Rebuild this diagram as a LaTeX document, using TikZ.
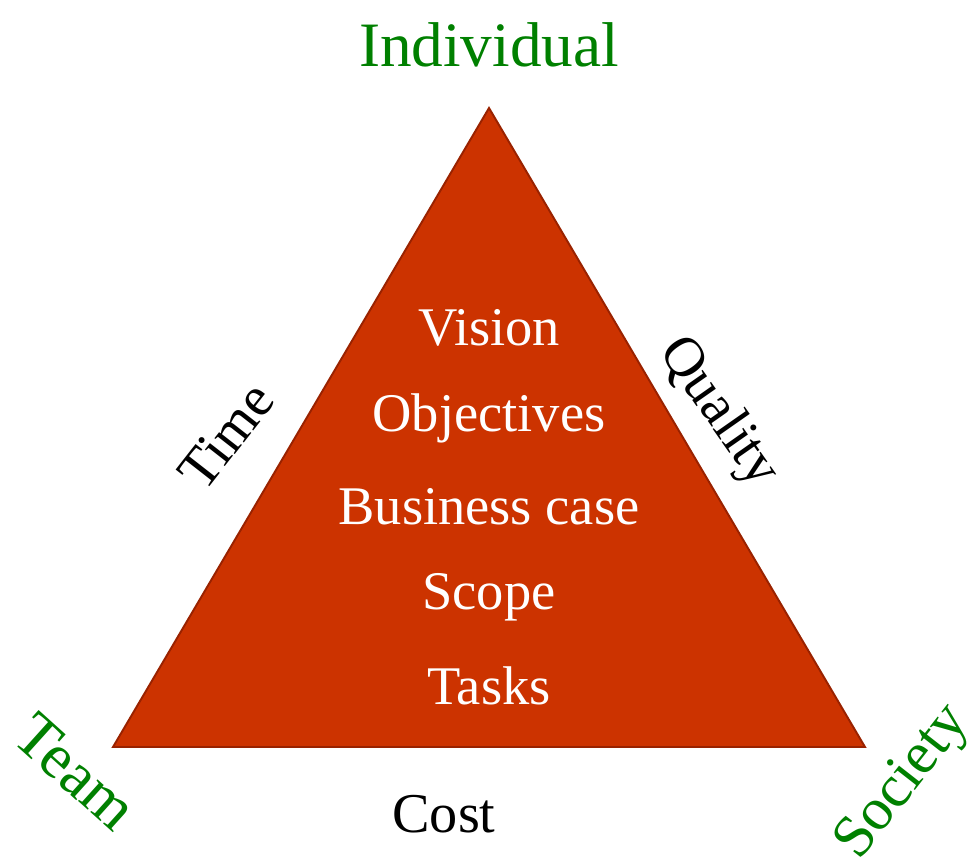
\documentclass[tikz,border=0pt]{standalone}
\usepackage{fontspec}
\setmainfont{Liberation Serif}
\definecolor{trifill}{HTML}{CC3300}
\definecolor{triedge}{HTML}{992200}
\definecolor{cornergreen}{HTML}{008000}
\tikzset{
  corner/.style={text=cornergreen, font=\fontsize{36}{40}\selectfont, inner sep=0pt},
  sidelabel/.style={text=black, font=\fontsize{32}{36}\selectfont, inner sep=0pt},
  item/.style={text=white, font=\fontsize{31}{36}\selectfont, inner sep=0pt}
}
\begin{document}
\begin{tikzpicture}[x=0.02cm, y=-0.02cm]
  \useasboundingbox (0,0) rectangle (974,863);

  % Drawing triangle A B C
  \coordinate (A) at (489,108);
  \coordinate (B) at (113,747);
  \coordinate (C) at (865,747);
  \draw [fill=trifill, draw=triedge, line width=1.1pt, line join=miter] (A) -- (B) -- (C) -- cycle;

  % Marking corners
  \node [corner] (individual) at (489,45) {Individual};
  \node [corner, rotate=-42] (team) at (76,772) {Team};
  \node [corner, rotate=52, font=\fontsize{34}{38}\selectfont] (society) at (904,783) {Society};

  % Marking sides
  \node [sidelabel, rotate=52] (time) at (226,436) {Time};
  \node [sidelabel, rotate=-55] (quality) at (718,413) {Quality};
  \node [sidelabel] (cost) at (444,814) {Cost};

  % Marking contents
  \node [item] (vision) at (489,328) {Vision};
  \node [item] (objectives) at (489,418) {Objectives};
  \node [item] (business) at (489,507) {Business case};
  \node [item] (scope) at (489,597) {Scope};
  \node [item] (tasks) at (489,686) {Tasks};
\end{tikzpicture}
\end{document}
